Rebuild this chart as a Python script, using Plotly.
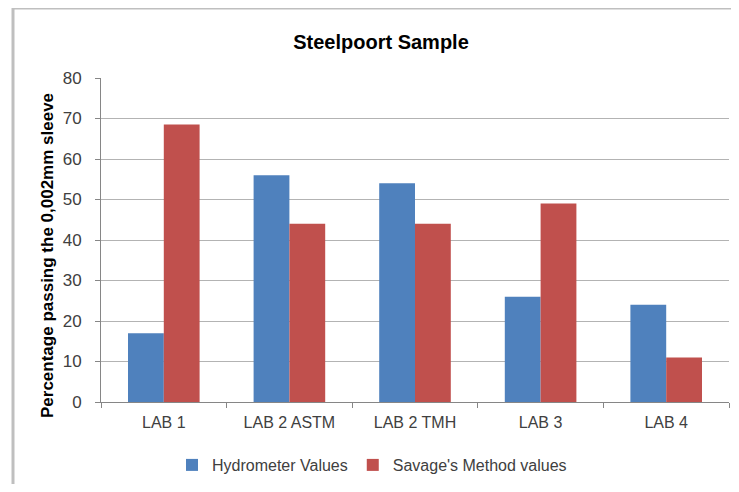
import plotly.graph_objects as go

categories = ["LAB 1", "LAB 2 ASTM", "LAB 2 TMH", "LAB 3", "LAB 4"]
hydrometer = [17, 56, 54, 26, 24]
savage = [68.5, 44, 44, 49, 11]
y_ticks = [0, 10, 20, 30, 40, 50, 60, 70, 80]

# page body has an 8px margin on every side: keep the figure inside the window
OFF = 8
W, H = 739 - 2 * OFF, 492 - 2 * OFF
L, R, T, B = 101 - OFF, 2, 78 - OFF, 82
pw, ph = W - L - R, H - T - B

def px_x(x):
    return (x - OFF - L) / pw

def px_y(y):
    return (H - B - (y - OFF)) / ph

font = "Liberation Sans, Arial, sans-serif"

fig = go.Figure()
fig.add_trace(go.Bar(x=categories, y=hydrometer, name="Hydrometer Values",
                     marker=dict(color="#4F81BD", line=dict(width=0))))
fig.add_trace(go.Bar(x=categories, y=savage, name="Savage's Method values",
                     marker=dict(color="#C0504D", line=dict(width=0))))

fig.update_layout(
    width=W, height=H,
    margin=dict(l=L, r=R, t=T, b=B),
    paper_bgcolor="white", plot_bgcolor="white",
    barmode="group", bargap=0.43, bargroupgap=0,
    font=dict(family=font, size=16, color="#404040"),
    title=dict(text="<b>Steelpoort Sample</b>", x=(381 - OFF) / W, xref="container", xanchor="center",
               y=1 - (42 - OFF) / H, yref="container", yanchor="middle",
               font=dict(family=font, size=20, color="#000000")),
    showlegend=True,
    legend=dict(orientation="h", x=px_x(372), xanchor="center", xref="paper",
                y=px_y(465), yanchor="middle", yref="paper",
                font=dict(family=font, size=16, color="#404040"),
                itemwidth=30, tracegroupgap=0, bgcolor="rgba(0,0,0,0)"),
    xaxis=dict(showgrid=False, showline=True, linecolor="#868686", linewidth=1,
               ticks="outside", tickson="boundaries", ticklen=5, tickcolor="#868686",
               ticklabelstandoff=6, tickfont=dict(size=16, color="#404040"),
               range=[-0.5, 4.5]),
    yaxis=dict(range=[0, 80], tickvals=y_ticks, showgrid=True, gridcolor="#b3b3b3", gridwidth=1,
               showline=True, linecolor="#868686", linewidth=1, zeroline=False,
               ticks="outside", ticklen=5, tickcolor="#868686", ticklabelstandoff=10,
               tickfont=dict(size=17, color="#404040")),
    annotations=[dict(text="<b>Percentage passing the 0,002mm sleeve</b>", textangle=-90,
                      x=px_x(47), y=px_y(256), xref="paper", yref="paper",
                      xanchor="center", yanchor="middle", showarrow=False,
                      font=dict(family=font, size=17, color="#000000"))],
    shapes=[dict(type="rect", xref="paper", yref="paper",
                 x0=px_x(13), x1=2, y0=-2, y1=px_y(8),
                 line=dict(color="#bfbfbf", width=3), fillcolor="rgba(0,0,0,0)", layer="below")],
)

fig.write_html("out.html")
